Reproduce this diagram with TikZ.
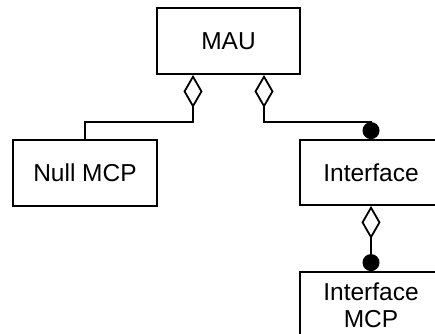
\documentclass[tikz,border=0pt]{standalone}
\usepackage{fontspec}
\setmainfont{Liberation Sans}
\usetikzlibrary{arrows.meta}
\begin{document}
\begin{tikzpicture}[x=1pt,y=-1pt,
  box/.style={draw,line width=1.8pt,rectangle,inner sep=0pt,align=center,
    font=\fontsize{24.5}{27}\selectfont},
  link/.style={line width=1.8pt},
  aggr/.style={{Diamond[open,fill=white,length=33pt,width=19pt]}-},
  aggrdot/.style={{Diamond[open,fill=white,length=33pt,width=19pt]}-{Circle[length=17pt]}}]
\useasboundingbox (0,0) rectangle (435,333);
\clip (0,0) rectangle (435,333);

% classes
\node[box,minimum width=143pt,minimum height=66pt] (mau) at (228.5,41) {MAU};
\node[box,minimum width=144pt,minimum height=66pt] (null) at (85,173) {Null MCP};
\node[box,minimum width=142pt,minimum height=65pt] (iface) at (371,172.5) {Interface};
\node[box,minimum width=142pt,minimum height=66pt] (imcp) at (371,305) {Interface\\MCP};

% attachment points under MAU
\coordinate (mauL) at ([xshift=-35.5pt]mau.south);
\coordinate (mauR) at ([xshift=35.5pt]mau.south);

% aggregations
\draw[link,aggr] (mauL) -- ++(0,47) -| (null.north);
\draw[link,aggrdot] (mauR) -- ++(0,47) -| (iface.north);
\draw[link,aggrdot] (iface.south) -- (imcp.north);
\end{tikzpicture}
\end{document}
